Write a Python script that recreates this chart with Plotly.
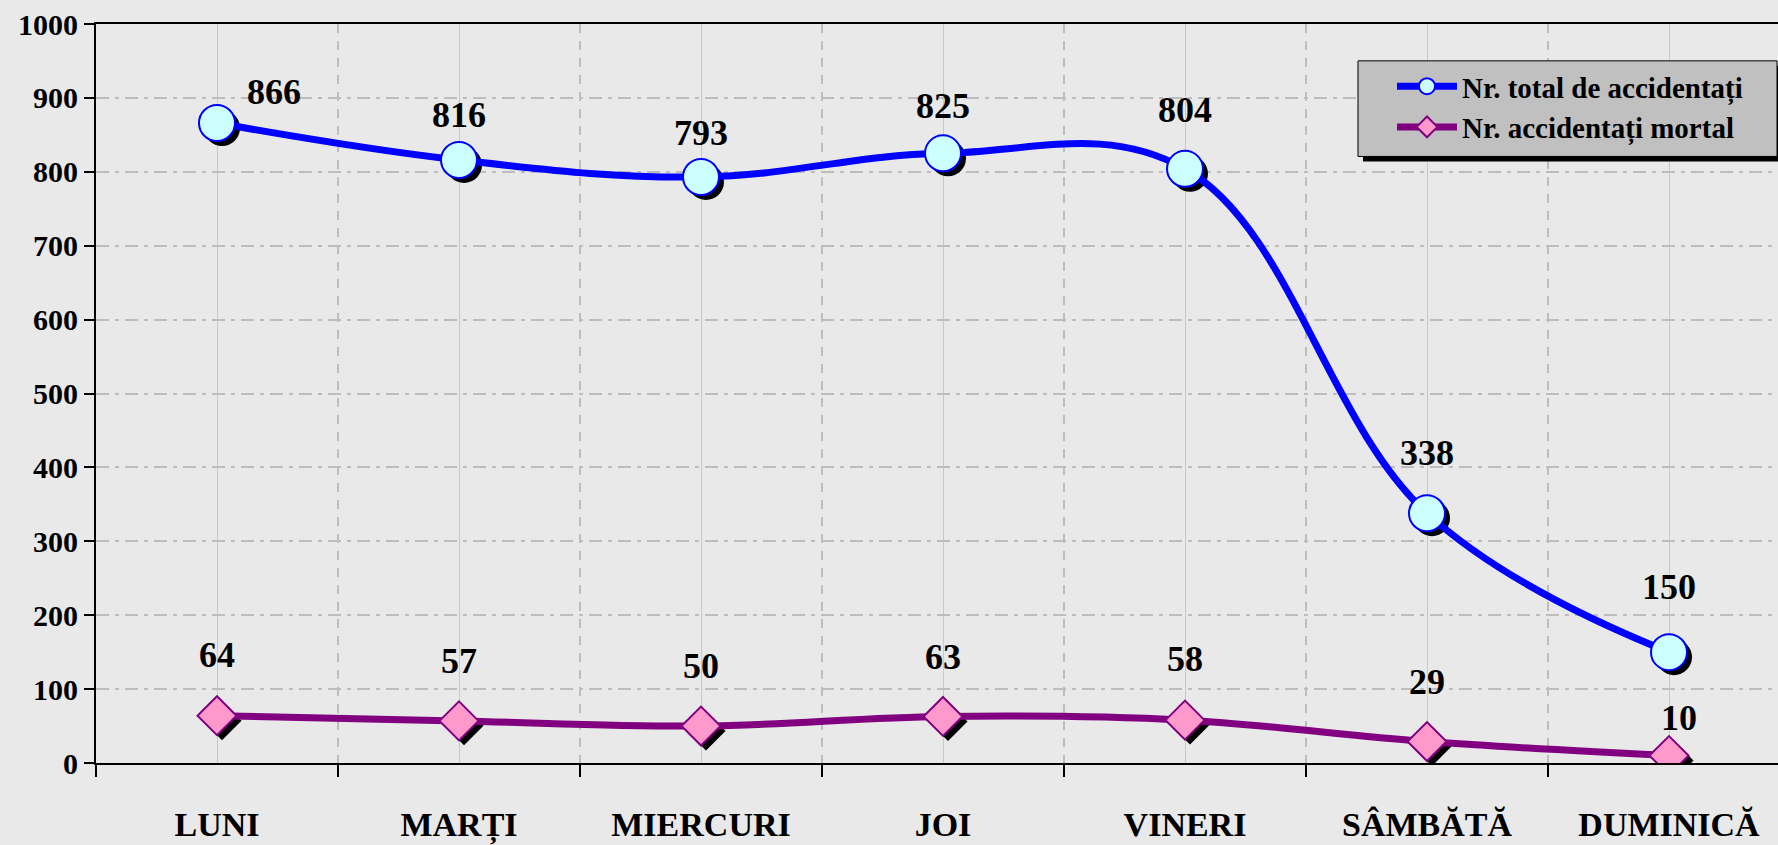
import plotly.graph_objects as go

# Accidentați pe zilele săptămânii
days = ["LUNI", "MARȚI", "MIERCURI", "JOI", "VINERI", "SÂMBĂTĂ", "DUMINICĂ"]
total_injured = [866, 816, 793, 825, 804, 338, 150]
fatal_injured = [64, 57, 50, 63, 58, 29, 10]

# label offsets in pixels (right, up) relative to each point
total_label_dx = [57, 0, 0, 0, 0, 0, 0]
total_label_dy = [31, 45, 44, 47, 59, 60, 65]
fatal_label_dx = [0, 0, 0, 0, 0, 0, 10]
fatal_label_dy = [61, 60, 60, 59, 61, 60, 38]

W, H = 1778, 845
ML, MR, MT, MB = 96, 0, 24, 79
plot_w = W - ML - MR
plot_h = H - MT - MB
cat_px = 242.0
x0 = -0.5
x1 = x0 + plot_w / cat_px
y0, y1 = 0, 1000

FONT = "Liberation Serif, Times New Roman, serif"
BG = "#e9e9e9"
GRID = "#bdbdbd"

# shadow offset for markers (pixels)
sh = 5
dx_units = sh * (x1 - x0) / plot_w
dy_units = sh * (y1 - y0) / plot_h

xs = list(range(len(days)))


def px_x(p):
    return (p - ML) / plot_w


def px_y(p):
    return 1 - (p - MT) / plot_h


fig = go.Figure()

# empty trace anchoring the visible axes
fig.add_trace(go.Scatter(x=[], y=[], mode="markers", showlegend=False,
                         hoverinfo="skip"))

# marker shadows on a slightly shifted overlay axis pair
fig.add_trace(go.Scatter(
    x=xs, y=total_injured, mode="markers", xaxis="x2", yaxis="y2",
    marker=dict(symbol="circle", size=36, color="black", line=dict(width=0)),
    showlegend=False, hoverinfo="skip"))
fig.add_trace(go.Scatter(
    x=xs, y=fatal_injured, mode="markers", xaxis="x2", yaxis="y2",
    marker=dict(symbol="diamond", size=30, color="black", line=dict(width=0)),
    showlegend=False, hoverinfo="skip"))

# the two series, drawn above the shadows
fig.add_trace(go.Scatter(
    x=xs, y=total_injured, mode="lines+markers", name="Nr. total de accidentați",
    xaxis="x3", yaxis="y3",
    line=dict(color="#0000ff", width=7, shape="spline", smoothing=1.1),
    marker=dict(symbol="circle", size=36, color="#ccffff",
                line=dict(color="#0000ff", width=2))))
fig.add_trace(go.Scatter(
    x=xs, y=fatal_injured, mode="lines+markers", name="Nr. accidentați mortal",
    xaxis="x3", yaxis="y3",
    line=dict(color="#800080", width=7, shape="spline", smoothing=1.0),
    marker=dict(symbol="diamond", size=30, color="#ff99cc",
                line=dict(color="#800080", width=2))))

annotations = []
for i, v in enumerate(total_injured):
    annotations.append(dict(x=i, y=v, xref="x3", yref="y3", text=str(v), showarrow=False,
                            xshift=total_label_dx[i], yshift=total_label_dy[i],
                            font=dict(family=FONT, size=36, color="black", weight="bold")))
for i, v in enumerate(fatal_injured):
    annotations.append(dict(x=i, y=v, xref="x3", yref="y3", text=str(v), showarrow=False,
                            xshift=fatal_label_dx[i], yshift=fatal_label_dy[i],
                            font=dict(family=FONT, size=36, color="black", weight="bold")))

# legend frame with drop shadow
shapes = [
    dict(type="rect", xref="paper", yref="paper",
         x0=px_x(1363), x1=px_x(1783), y0=px_y(162), y1=px_y(66),
         fillcolor="black", line=dict(width=0), layer="above"),
    dict(type="rect", xref="paper", yref="paper",
         x0=px_x(1358), x1=px_x(1777), y0=px_y(157), y1=px_y(61),
         fillcolor="#c0c0c0", line=dict(color="black", width=1), layer="above"),
]

fig.update_layout(
    width=W, height=H,
    margin=dict(l=ML, r=MR, t=MT, b=MB, pad=0),
    paper_bgcolor=BG, plot_bgcolor=BG,
    font=dict(family=FONT, color="black", weight="bold"),
    xaxis=dict(
        range=[x0, x1], tickmode="array", tickvals=xs, ticktext=days,
        showgrid=True, gridcolor="#c8c8c8", gridwidth=1,
        ticks="", ticklabelstandoff=30,
        tickfont=dict(family=FONT, size=34, color="black", weight="bold"),
        showline=True, linecolor="black", linewidth=2, mirror=True,
        zeroline=False,
        minor=dict(tickvals=[i + 0.5 for i in range(-1, len(days))],
                   ticks="outside", ticklen=12, tickwidth=2, tickcolor="black",
                   showgrid=True, gridcolor=GRID, gridwidth=1.5, griddash="9px,8px"),
    ),
    yaxis=dict(
        range=[y0, y1], dtick=100, tick0=0,
        showgrid=True, gridcolor=GRID, gridwidth=1.5, griddash="13px,6px,4px,6px",
        ticks="outside", ticklen=10, tickwidth=2, tickcolor="black",
        tickfont=dict(family=FONT, size=30, color="black", weight="bold"),
        showline=True, linecolor="black", linewidth=2,
        zeroline=False,
    ),
    xaxis2=dict(range=[x0 - dx_units, x1 - dx_units], overlaying="x", visible=False),
    yaxis2=dict(range=[y0 + dy_units, y1 + dy_units], overlaying="y", visible=False),
    xaxis3=dict(range=[x0, x1], overlaying="x", visible=False),
    yaxis3=dict(range=[y0, y1], overlaying="y", visible=False),
    legend=dict(
        x=px_x(1392), y=px_y(61),
        xanchor="left", yanchor="top",
        bgcolor="rgba(0,0,0,0)", borderwidth=0,
        font=dict(family=FONT, size=29, color="black", weight="bold"),
        itemwidth=60, tracegroupgap=0,
    ),
    annotations=annotations,
    shapes=shapes,
    showlegend=True,
)

fig.write_html("out.html")
